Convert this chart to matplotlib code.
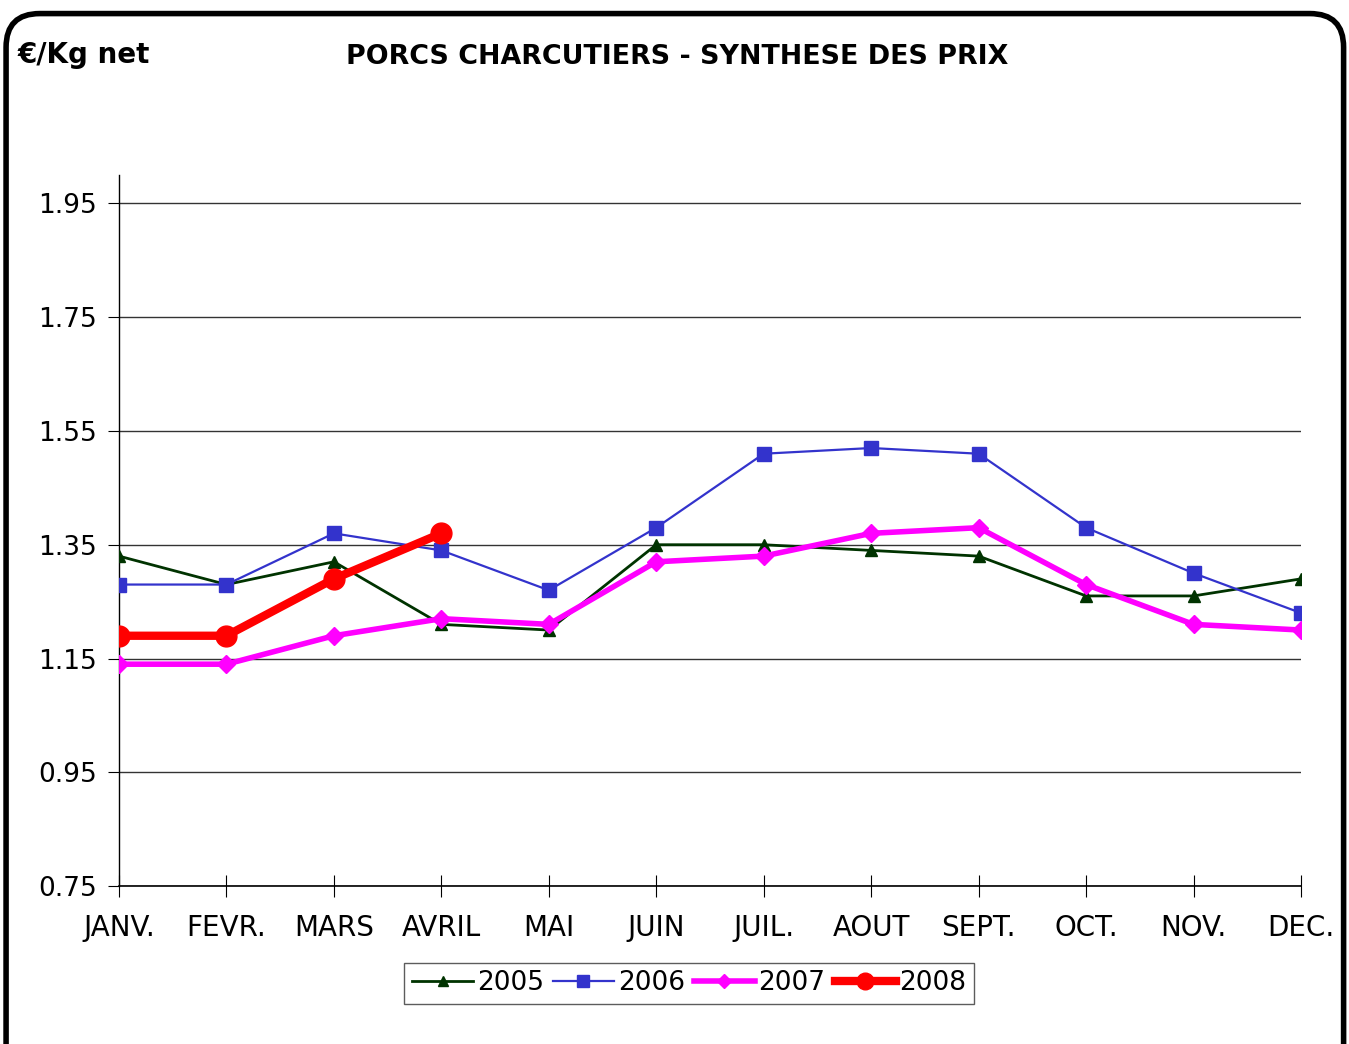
import matplotlib
matplotlib.use("Agg")
import matplotlib.pyplot as plt
from matplotlib.patches import FancyBboxPatch

months = ["JANV.", "FEVR.", "MARS", "AVRIL", "MAI", "JUIN",
          "JUIL.", "AOUT", "SEPT.", "OCT.", "NOV.", "DEC."]
prix_2005 = [1.33, 1.28, 1.32, 1.21, 1.20, 1.35, 1.35, 1.34, 1.33, 1.26, 1.26, 1.29]
prix_2006 = [1.28, 1.28, 1.37, 1.34, 1.27, 1.38, 1.51, 1.52, 1.51, 1.38, 1.30, 1.23]
prix_2007 = [1.14, 1.14, 1.19, 1.22, 1.21, 1.32, 1.33, 1.37, 1.38, 1.28, 1.21, 1.20]
prix_2008 = [1.19, 1.19, 1.29, 1.37]
yticks = [0.75, 0.95, 1.15, 1.35, 1.55, 1.75, 1.95]

plt.rcParams["font.family"] = ["DejaVu Sans"]

fig = plt.figure(figsize=(13.49, 10.44), dpi=100)
ax = fig.add_axes([0.0882, 0.1513, 0.8762, 0.6811])

x = list(range(len(months)))
ax.plot(x, prix_2005, color="#003300", lw=2, marker="^", ms=9, label="2005", zorder=3)
ax.plot(x, prix_2006, color="#3333CC", lw=1.6, marker="s", ms=10, label="2006", zorder=3)
ax.plot(x, prix_2007, color="#FF00FF", lw=4, marker="D", ms=9, label="2007", zorder=4)
ax.plot(x[:len(prix_2008)], prix_2008, color="#FF0000", lw=6, marker="o", ms=15,
        label="2008", zorder=5)

ax.set_xlim(0, len(months) - 1)
ax.set_ylim(0.75, 2.0)
ax.set_yticks(yticks)
ax.set_yticklabels([f"{v:.2f}" for v in yticks])
ax.set_xticks(x)
ax.set_xticklabels(months)
ax.yaxis.grid(True, color="#333333", lw=1)
ax.set_axisbelow(True)
for s in ["top", "right"]:
    ax.spines[s].set_visible(False)
ax.spines["left"].set_linewidth(1)
ax.spines["bottom"].set_linewidth(1.2)
ax.tick_params(axis="y", direction="out", length=8, labelsize=19, pad=8)
ax.tick_params(axis="x", direction="inout", length=16, labelsize=20, pad=12)

fig.text(0.502, 0.945, "PORCS CHARCUTIERS - SYNTHESE DES PRIX",
         ha="center", va="center", fontsize=19.4, fontweight="bold")
fig.text(0.013, 0.947, "€/Kg net", ha="left", va="center",
         fontsize=20, fontweight="bold")

leg = fig.legend(loc="center", bbox_to_anchor=(0.511, 0.058), ncol=4, fontsize=19,
                 frameon=True, fancybox=False, edgecolor="#333333",
                 handlelength=2.3, handletextpad=0.15, columnspacing=0.35,
                 borderpad=0.3, markerscale=0.8)
leg.get_frame().set_linewidth(1)

frame = FancyBboxPatch((0.0045, -0.05), 0.9915, 1.037,
                       boxstyle="round,pad=0,rounding_size=0.025",
                       transform=fig.transFigure, fill=False, lw=4,
                       edgecolor="black", clip_on=False, mutation_aspect=1.29)
fig.patches.append(frame)

fig.savefig("out.png", dpi=100)
